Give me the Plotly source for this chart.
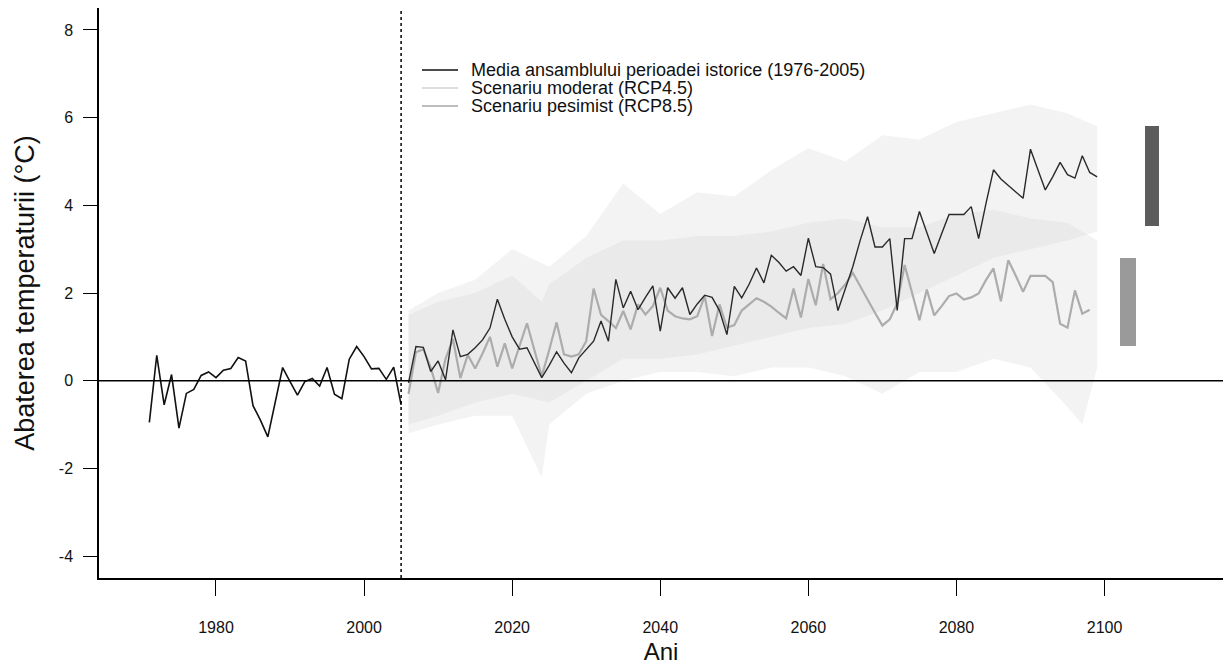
import plotly.graph_objects as go

# ---------------- data ----------------
hist_years = list(range(1971, 2006))
hist_vals = [-0.95, 0.58, -0.55, 0.14, -1.08, -0.29, -0.20, 0.12, 0.20, 0.07,
             0.24, 0.28, 0.53, 0.45, -0.57, -0.90, -1.28, -0.50, 0.30, -0.02,
             -0.33, -0.02, 0.05, -0.12, 0.30, -0.31, -0.41, 0.49, 0.78, 0.55,
             0.27, 0.28, 0.03, 0.31, -0.55]

rcp45_years = list(range(2006, 2099))
rcp45_vals = [-0.30, 0.65, 0.72, 0.30, -0.28, 0.50, 0.95, 0.06, 0.59, 0.28,
              0.62, 1.00, 0.32, 0.85, 0.28, 0.80, 1.31, 0.70, 0.10, 0.70,
              1.33, 0.60, 0.55, 0.60, 0.90, 2.10, 1.50, 1.36, 1.20, 1.59,
              1.17, 1.74, 1.51, 1.70, 2.12, 1.60, 1.47, 1.42, 1.40, 1.47,
              1.93, 1.02, 1.74, 1.21, 1.27, 1.60, 1.75, 1.88, 1.80, 1.69,
              1.55, 1.42, 2.10, 1.44, 2.32, 1.72, 2.66, 1.86, 2.00, 2.20,
              2.46, 2.14, 1.85, 1.55, 1.26, 1.40, 1.76, 2.64, 2.00, 1.38,
              2.08, 1.49, 1.70, 1.93, 1.99, 1.85, 1.90, 1.99, 2.30, 2.56,
              1.81, 2.75, 2.40, 2.03, 2.39, 2.39, 2.39, 2.25, 1.30, 1.21,
              2.06, 1.53, 1.62]

rcp85_years = list(range(2006, 2100))
rcp85_vals = [-0.05, 0.78, 0.76, 0.21, 0.45, 0.02, 1.16, 0.55, 0.60, 0.75,
              0.93, 1.20, 1.86, 1.40, 1.00, 0.72, 0.75, 0.40, 0.07, 0.35,
              0.66, 0.40, 0.18, 0.52, 0.70, 0.90, 1.36, 0.90, 2.31, 1.66,
              2.04, 1.62, 1.90, 2.16, 1.13, 2.12, 1.88, 2.12, 1.51, 1.75,
              1.95, 1.90, 1.60, 1.05, 2.15, 1.89, 2.20, 2.57, 2.23, 2.86,
              2.70, 2.50, 2.60, 2.40, 3.25, 2.60, 2.58, 2.43, 1.60, 2.10,
              2.60, 3.20, 3.74, 3.05, 3.05, 3.24, 1.60, 3.24, 3.24, 3.86,
              3.40, 2.90, 3.35, 3.79, 3.79, 3.79, 3.97, 3.24, 4.05, 4.81,
              4.60, 4.45, 4.30, 4.16, 5.28, 4.80, 4.35, 4.65, 4.98, 4.70,
              4.62, 5.13, 4.75, 4.65]

band45_years = [2006, 2010, 2015, 2020, 2024, 2025, 2030, 2035, 2040, 2045, 2050,
                2055, 2060, 2065, 2070, 2075, 2080, 2085, 2090, 2095, 2097, 2099]
band45_low = [-1.2, -1.0, -0.8, -0.8, -2.2, -1.0, -0.3, 0.0, 0.2, 0.2, 0.1,
              0.3, 0.3, 0.1, -0.3, 0.2, 0.2, 0.5, 0.3, -0.6, -1.0, 0.3]
band45_high = [1.5, 1.8, 2.0, 2.4, 1.8, 2.2, 2.8, 3.2, 3.2, 3.3, 3.3,
               3.4, 3.6, 3.7, 3.5, 3.5, 3.8, 3.9, 3.7, 3.6, 3.4, 3.2]

band85_years = [2006, 2010, 2015, 2020, 2025, 2030, 2035, 2040, 2045, 2050,
                2055, 2060, 2065, 2070, 2075, 2080, 2085, 2090, 2095, 2099]
band85_low = [-1.0, -0.8, -0.5, -0.3, -0.5, 0.0, 0.5, 0.5, 0.6, 0.8,
              1.0, 1.2, 1.3, 1.6, 2.0, 2.4, 2.8, 3.0, 3.2, 3.4]
band85_high = [1.6, 2.0, 2.3, 3.0, 2.6, 3.3, 4.5, 3.8, 4.3, 4.2,
               4.8, 5.3, 5.0, 5.6, 5.5, 5.9, 6.1, 6.3, 6.1, 5.8]

range_bar_x = [2103.2, 2106.4]
range_bar_low = [0.78, 3.53]
range_bar_high = [2.80, 5.81]
range_bar_colors = ["#9a9a9a", "#5c5c5c"]

x_ticks = [1980, 2000, 2020, 2040, 2060, 2080, 2100]
y_ticks = [-4, -2, 0, 2, 4, 6, 8]
y_tick_labels = ["-4", "-2", "0", "2", "4", "6", "8"]

legend_names = ["Media ansamblului perioadei istorice (1976-2005)",
                "Scenariu moderat (RCP4.5)",
                "Scenariu pesimist (RCP8.5)"]
legend_colors = ["#111111", "#d4d4d4", "#a8a8a8"]

FONT = "Liberation Sans, Arial, sans-serif"

fig = go.Figure()

# ensemble spread bands
for yrs, lo, hi in [(band45_years, band45_low, band45_high),
                    (band85_years, band85_low, band85_high)]:
    fig.add_trace(go.Scatter(x=yrs + yrs[::-1], y=hi + lo[::-1], fill="toself",
                             fillcolor="rgba(215,215,215,0.30)", line=dict(width=0),
                             mode="lines", showlegend=False, hoverinfo="skip"))

# scenario lines
fig.add_trace(go.Scatter(x=rcp45_years, y=rcp45_vals, mode="lines",
                         line=dict(color="#acacac", width=2.2), showlegend=False))
fig.add_trace(go.Scatter(x=rcp85_years, y=rcp85_vals, mode="lines",
                         line=dict(color="#2a2a2a", width=1.4), showlegend=False))
# historical
fig.add_trace(go.Scatter(x=hist_years, y=hist_vals, mode="lines",
                         line=dict(color="#111111", width=1.6), showlegend=False))

# range bars on the right
fig.add_trace(go.Bar(x=range_bar_x,
                     y=[h - l for h, l in zip(range_bar_high, range_bar_low)],
                     base=range_bar_low, width=[2.1, 2.0],
                     marker=dict(color=range_bar_colors, line=dict(width=0)),
                     showlegend=False))

fig.add_shape(type="line", xref="paper", x0=0, x1=1, yref="y", y0=0, y1=0,
              line=dict(color="black", width=1.6))
fig.add_shape(type="line", xref="x", x0=2005, x1=2005, yref="paper", y0=0, y1=1,
              line=dict(color="black", width=1.5, dash="dot"))

# manual legend (plot area: x 99..1223 px, y 8..578 px)
PW, PH = 1124.0, 570.0
for i, (name, col) in enumerate(zip(legend_names, legend_colors)):
    row_y = (578 - (70 + 18 * i)) / PH
    fig.add_shape(type="line", xref="paper", yref="paper",
                  x0=(422 - 99) / PW, x1=(458 - 99) / PW, y0=row_y, y1=row_y,
                  line=dict(color=col, width=1.5))
    fig.add_annotation(xref="paper", yref="paper", x=(469 - 99) / PW, y=row_y,
                       xanchor="left", yanchor="middle", showarrow=False,
                       text=name, font=dict(size=18, family=FONT, color="#111111"))

fig.update_layout(
    width=1223, height=672,
    margin=dict(l=99, r=0, t=8, b=94),
    paper_bgcolor="white", plot_bgcolor="white",
    font=dict(family=FONT, color="#111111", size=16),
    showlegend=False,
    bargap=0,
    xaxis=dict(range=[1964.2, 2116], tickvals=x_ticks, showgrid=False, zeroline=False,
               showline=True, linecolor="black", linewidth=1.5,
               ticks="outside", ticklen=16, tickwidth=1.3, tickcolor="black",
               ticklabelstandoff=18,
               tickfont=dict(size=16),
               title=dict(text="Ani", font=dict(size=24), standoff=8)),
    yaxis=dict(range=[-4.5, 8.5], tickvals=y_ticks, ticktext=y_tick_labels,
               showgrid=False, zeroline=False,
               showline=True, linecolor="black", linewidth=1.5,
               ticks="outside", ticklen=14, tickwidth=1.3, tickcolor="black",
               ticklabelstandoff=7,
               tickfont=dict(size=16),
               title=dict(text="Abaterea temperaturii (°C)", font=dict(size=27), standoff=16)),
)

fig.write_html("out.html")
